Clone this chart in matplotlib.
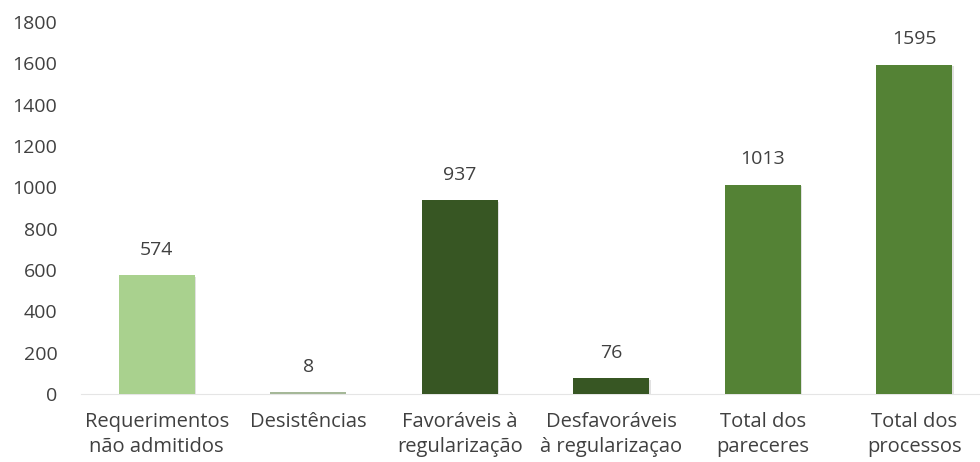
import matplotlib.pyplot as plt
import matplotlib.patheffects as pe

# data
categories = ["Requerimentos\nnão admitidos", "Desistências", "Favoráveis à\nregularização",
              "Desfavoráveis\nà regularizaçao", "Total dos\npareceres", "Total dos\nprocessos"]
values = [574, 8, 937, 76, 1013, 1595]
colors = ["#A9D18E", "#A5B898", "#375623", "#375623", "#548235", "#548235"]

plt.rcParams['font.family'] = ['Open Sans', 'DejaVu Sans']

fig = plt.figure(figsize=(9.8, 4.62), dpi=100)
ax = fig.add_axes([0.0827, 0.147, 0.9276, 0.805])

x = range(len(values))
bars = ax.bar(x, values, width=0.5, color=colors, zorder=3)
for b in bars:
    b.set_path_effects([pe.SimplePatchShadow(offset=(1, -1), shadow_rgbFace='#aaaaaa', alpha=0.35),
                        pe.Normal()])

for i, v in enumerate(values):
    ax.annotate(str(v), (i, v), xytext=(0, 12), textcoords='offset points',
                ha='center', va='bottom', fontsize=14, color='#404040')

ax.set_ylim(0, 1800)
ax.set_xlim(-0.5, len(values) - 0.5)
ax.set_yticks(range(0, 1801, 200))
ax.set_xticks(list(x))
ax.set_xticklabels(categories, fontsize=14.5, color='#404040', linespacing=1.35)
ax.tick_params(axis='y', labelsize=14, labelcolor='#404040', length=0, pad=17)
ax.tick_params(axis='x', length=0, pad=13)

for s in ['top', 'right', 'left']:
    ax.spines[s].set_visible(False)
ax.spines['bottom'].set_color('#E5E5E5')

fig.savefig('out.png', dpi=100)
